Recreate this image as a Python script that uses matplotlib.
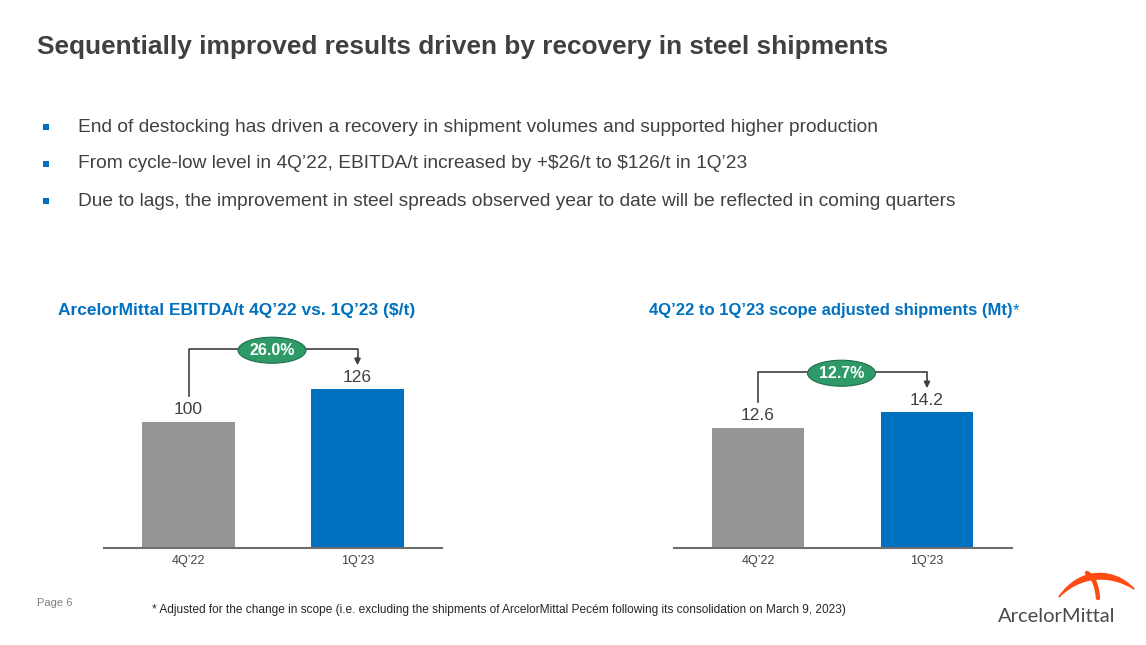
import matplotlib
matplotlib.use("Agg")
import matplotlib.pyplot as plt
from matplotlib.patches import Ellipse, Rectangle, PathPatch
from matplotlib.path import Path

plt.rcParams['font.family'] = ['Liberation Sans', 'DejaVu Sans']

# data
quarters = ["4Q\u201922", "1Q\u201923"]
ebitda_t = [100, 126]
shipments = [12.6, 14.2]
ebitda_change = "26.0%"
ship_change = "12.7%"

title = "Sequentially improved results driven by recovery in steel shipments"
bullets = [
    "End of destocking has driven a recovery in shipment volumes and supported higher production",
    "From cycle-low level in 4Q\u201922, EBITDA/t increased by +\\$26/t to \\$126/t in 1Q\u201923",
    "Due to lags, the improvement in steel spreads observed year to date will be reflected in coming quarters",
]
left_title = "ArcelorMittal EBITDA/t 4Q\u201922 vs. 1Q\u201923 (\\$/t)"
right_title = "4Q\u201922 to 1Q\u201923 scope adjusted shipments (Mt)"
footnote = ("* Adjusted for the change in scope (i.e. excluding the shipments of "
            "ArcelorMittal Pec\u00e9m following its consolidation on March 9, 2023)")

GRAY = "#969696"
BLUE = "#0070C0"
GREEN = "#2E9A68"
TXT = "#404040"

W, H = 1146, 645
fig = plt.figure(figsize=(W / 100, H / 100), dpi=100)

# overlay in pixel coords for slide texts
bg = fig.add_axes([0, 0, 1, 1], zorder=0)
bg.set_xlim(0, W)
bg.set_ylim(H, 0)
bg.axis("off")

bg.text(37, 47, title, fontsize=18.9, fontweight="bold", color=TXT, va="center", ha="left")
for i, b in enumerate(bullets):
    y = 127 + i * 37
    bg.add_patch(Rectangle((43, y - 3), 6, 6, color=BLUE, lw=0))
    bg.text(78, y, b, fontsize=13.8, color=TXT, va="center", ha="left")

bg.text(58, 311, left_title, fontsize=12.55, fontweight="bold", color=BLUE, va="center", ha="left")
rt = bg.text(649, 311, right_title, fontsize=12.0, fontweight="bold", color=BLUE,
             va="center", ha="left")
bg.annotate("*", xy=(1, 0.5), xycoords=rt, fontsize=12.0, color=BLUE, va="center", ha="left")
bg.text(37, 603, "Page 6", fontsize=8, color="#7f7f7f", va="center", ha="left")
bg.text(152, 610, footnote, fontsize=8.55, color="#262626", va="center", ha="left")

# logo
bg.text(998, 617, "ArcelorMittal", fontsize=14.5, color="#4a4a4a", va="center", ha="left",
        family=["Lato", "Liberation Sans"])
crescent = Path([(1059, 597), (1080, 566), (1115, 568), (1134, 589),
                 (1112, 575), (1082, 574), (1059, 597), (1059, 597)],
                [Path.MOVETO, Path.CURVE4, Path.CURVE4, Path.CURVE4,
                 Path.CURVE4, Path.CURVE4, Path.CURVE4, Path.CLOSEPOLY])
bg.add_patch(PathPatch(crescent, facecolor="#FF4A12", edgecolor="#FF4A12", lw=1))
hook = Path([(1087, 573), (1095, 578), (1097, 588), (1098, 598)],
            [Path.MOVETO, Path.CURVE4, Path.CURVE4, Path.CURVE4])
bg.add_patch(PathPatch(hook, fill=False, lw=3.2, color="#FF4A12", capstyle="round"))


def bar_panel(left_px, values, top_val, change):
    ax = fig.add_axes([left_px / W, (H - 548) / H, 338 / W, 218 / H], zorder=1)
    ax.patch.set_alpha(0)
    x = list(range(len(values)))
    ax.bar(x, values, width=0.55, color=[GRAY, BLUE])
    ax.set_xlim(-0.5, 1.5)
    ax.set_ylim(0, top_val)
    for s in ["top", "left", "right"]:
        ax.spines[s].set_visible(False)
    ax.spines["bottom"].set_color("#6e6e6e")
    ax.spines["bottom"].set_linewidth(1.5)
    ax.set_yticks([])
    ax.set_xticks(x)
    ax.set_xticklabels(quarters, fontsize=9, color=TXT)
    ax.tick_params(axis="x", length=0, pad=5)
    for xi, v in zip(x, values):
        ax.annotate(f"{v:g}", (xi, v), xytext=(0, 12), textcoords="offset pixels",
                    ha="center", va="center", fontsize=12.5, color=TXT)

    # bracket with arrow, offsets in pixels above the bars
    inv = ax.transData.inverted()
    d0 = ax.transData.transform((x[0], values[0]))
    d1 = ax.transData.transform((x[1], values[1]))
    p_start = inv.transform((d0[0], d0[1] + 26))
    p_top0 = inv.transform((d0[0], d1[1] + 40))
    p_top1 = inv.transform((d1[0], d1[1] + 40))
    p_tip = inv.transform((d1[0], d1[1] + 24))
    p_mid = inv.transform((d1[0], d1[1] + 32))
    ax.plot([p_start[0], p_top0[0], p_top1[0], p_mid[0]],
            [p_start[1], p_top0[1], p_top1[1], p_mid[1]],
            color="#404040", lw=1.2, clip_on=False)
    ax.annotate("", xy=p_tip, xytext=p_mid,
                arrowprops=dict(arrowstyle="-|>", color="#404040", lw=1.2,
                                mutation_scale=9, shrinkA=0, shrinkB=0),
                annotation_clip=False)
    mid_disp = ((d0[0] + d1[0]) / 2 - 1, d1[1] + 39)
    ell = Ellipse(mid_disp, 68, 26, transform=None, facecolor=GREEN,
                  edgecolor="#1f6e4a", lw=0.8, zorder=5)
    ax.add_artist(ell)
    ax.text(*inv.transform(mid_disp), change, ha="center", va="center", fontsize=11.5,
            fontweight="bold", color="white", zorder=6)
    return ax


bar_panel(104, ebitda_t, 173, ebitda_change)
bar_panel(673.5, shipments, 22.8, ship_change)

fig.savefig("out.png", dpi=100)
